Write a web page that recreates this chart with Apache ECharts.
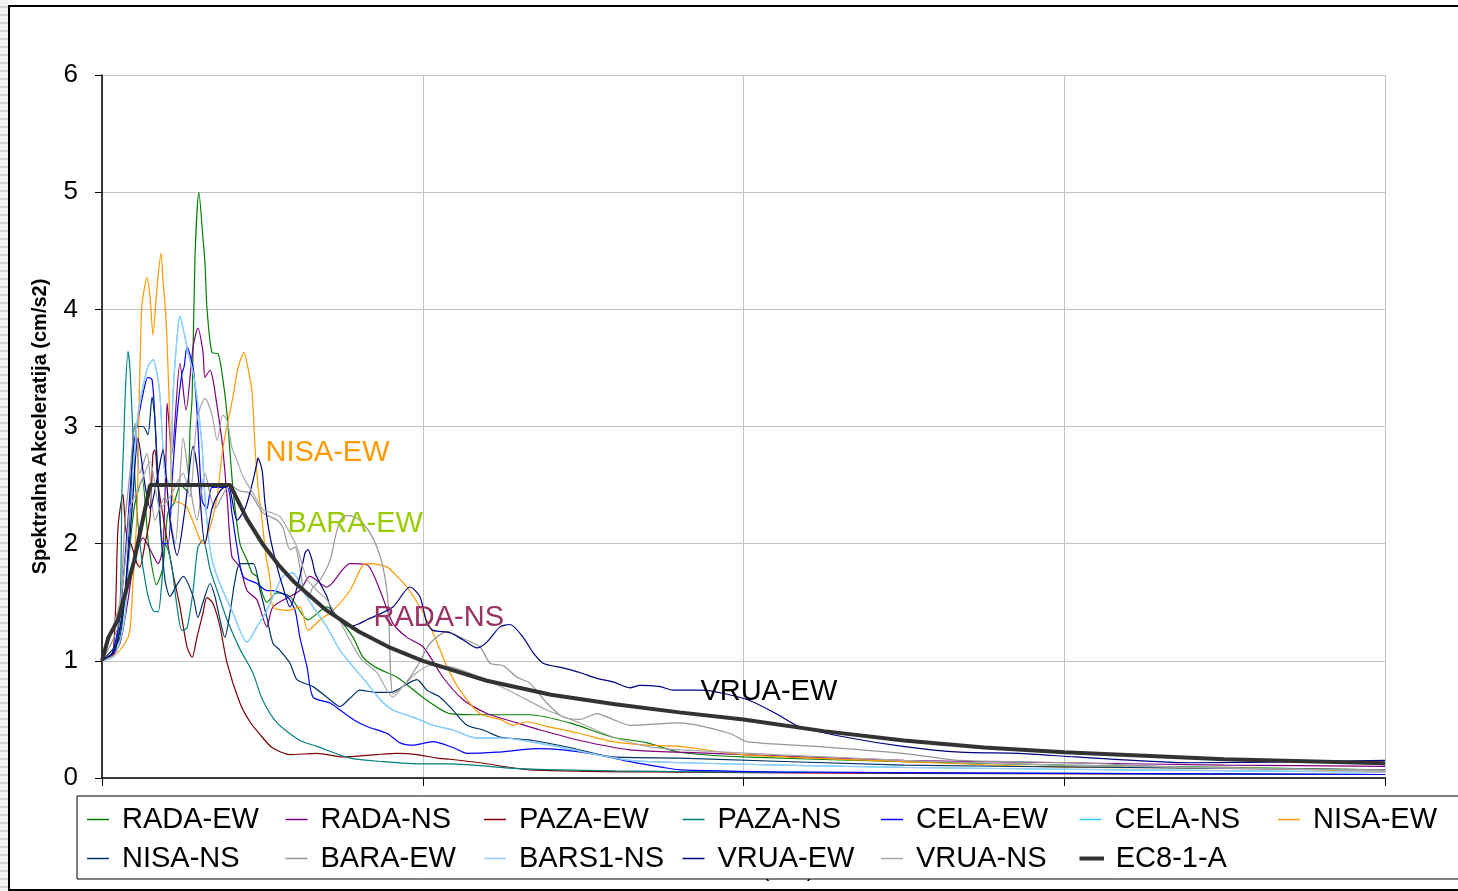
<!DOCTYPE html>
<html>
<head>
<meta charset="utf-8">
<script src="https://cdn.jsdelivr.net/npm/echarts@6/dist/echarts.min.js"></script>
<style>
  html, body { margin: 0; padding: 0; background: #fff; }
  #chart { position: absolute; left: 0; top: 0; width: 1458px; height: 891px; }
  #frame { position: absolute; left: 8px; top: 5px; width: 1470px; height: 882px; border: 2px solid #000; pointer-events: none; }
  #strip { position: absolute; left: 0; top: 0; width: 8px; height: 891px;
           background: repeating-linear-gradient(to bottom, #f4f4f4 0px, #f4f4f4 6px, #d6d6d6 6px, #d6d6d6 8px); }
</style>
</head>
<body>
<div id="strip"></div>
<div id="chart"></div>
<div id="frame"></div>
<script>
// ---- Data: [period T (s), spectral acceleration] ----
const RADA_EW = [[0,1],[0.04,1.08],[0.07,1.5],[0.1,2.3],[0.125,2.55],[0.145,2.0],[0.17,1.65],[0.19,1.8],[0.205,2.26],[0.225,2.35],[0.245,2.5],[0.265,2.45],[0.275,3.0],[0.281,3.25],[0.29,4.45],[0.302,5.0],[0.315,4.6],[0.321,4.4],[0.327,4.02],[0.343,3.63],[0.362,3.62],[0.377,3.4],[0.39,3.1],[0.408,2.48],[0.43,2.0],[0.452,1.86],[0.468,1.75],[0.483,1.72],[0.514,1.5],[0.546,1.58],[0.586,1.55],[0.642,1.35],[0.701,1.46],[0.742,1.35],[0.783,1.2],[0.814,1.03],[0.857,0.94],[0.92,0.86],[1.0,0.69],[1.085,0.55],[1.178,0.54],[1.334,0.54],[1.459,0.47],[1.59,0.35],[1.7,0.3],[1.8,0.22],[2.0,0.18],[2.5,0.14],[3.0,0.11],[3.5,0.09],[4.0,0.07]];
const RADA_NS = [[0,1],[0.03,1.04],[0.056,1.15],[0.08,1.5],[0.1,1.85],[0.128,2.05],[0.15,1.95],[0.175,1.83],[0.19,1.97],[0.2,2.8],[0.203,3.2],[0.218,2.77],[0.243,3.54],[0.262,3.14],[0.284,3.68],[0.299,3.84],[0.315,3.63],[0.321,3.42],[0.337,3.48],[0.346,3.4],[0.359,3.17],[0.374,2.88],[0.39,2.4],[0.405,1.89],[0.43,1.8],[0.452,1.6],[0.483,1.52],[0.514,1.29],[0.533,1.46],[0.617,1.6],[0.648,1.72],[0.701,1.63],[0.773,1.83],[0.826,1.82],[0.867,1.6],[0.907,1.32],[0.951,1.2],[1.001,1.12],[1.063,0.86],[1.125,0.67],[1.2,0.55],[1.294,0.47],[1.366,0.41],[1.49,0.32],[1.646,0.24],[1.802,0.22],[2.0,0.2],[2.5,0.15],[3.0,0.13],[3.5,0.11],[4.0,0.1]];
const PAZA_EW = [[0,1],[0.034,1.05],[0.05,2.14],[0.065,2.42],[0.075,2.1],[0.094,1.97],[0.109,1.83],[0.118,1.8],[0.134,2.0],[0.15,2.23],[0.159,2.77],[0.165,2.8],[0.175,2.5],[0.203,2.03],[0.221,1.75],[0.243,1.46],[0.265,1.12],[0.281,1.03],[0.296,1.2],[0.315,1.41],[0.327,1.54],[0.346,1.49],[0.368,1.29],[0.39,0.98],[0.43,0.64],[0.461,0.48],[0.49,0.38],[0.53,0.26],[0.586,0.2],[0.67,0.21],[0.751,0.18],[0.857,0.2],[0.92,0.21],[0.982,0.2],[1.045,0.17],[1.085,0.16],[1.178,0.13],[1.334,0.07],[1.8,0.05],[2.5,0.04],[3.2,0.035],[4.0,0.03]];
const PAZA_NS = [[0,1],[0.03,1.05],[0.05,1.25],[0.058,1.6],[0.062,2.43],[0.068,2.9],[0.073,3.31],[0.081,3.64],[0.087,3.5],[0.094,3.1],[0.103,2.54],[0.118,2.0],[0.14,1.6],[0.159,1.43],[0.175,1.42],[0.187,1.69],[0.196,2.0],[0.206,1.95],[0.218,1.8],[0.234,1.46],[0.249,1.26],[0.265,1.28],[0.284,1.6],[0.299,1.97],[0.315,2.03],[0.337,1.78],[0.359,1.6],[0.39,1.35],[0.43,1.1],[0.47,0.9],[0.5,0.67],[0.546,0.47],[0.617,0.32],[0.67,0.27],[0.773,0.17],[0.876,0.14],[1.0,0.12],[1.085,0.12],[1.3,0.08],[1.6,0.06],[2.0,0.05],[3.0,0.04],[4.0,0.03]];
const CELA_EW = [[0,1],[0.03,1.05],[0.056,1.4],[0.081,2.2],[0.097,2.8],[0.109,3.0],[0.128,3.28],[0.143,3.42],[0.156,3.4],[0.165,3.06],[0.175,2.5],[0.19,2.0],[0.206,2.0],[0.22,2.6],[0.234,3.1],[0.249,3.45],[0.256,3.51],[0.265,3.68],[0.284,3.5],[0.296,3.14],[0.312,2.37],[0.327,2.3],[0.343,2.48],[0.39,2.48],[0.405,2.26],[0.421,1.97],[0.44,1.72],[0.483,1.66],[0.514,1.6],[0.533,1.6],[0.577,1.55],[0.602,1.43],[0.617,1.2],[0.639,0.95],[0.658,0.69],[0.711,0.64],[0.742,0.58],[0.783,0.5],[0.826,0.44],[0.889,0.38],[0.929,0.3],[0.97,0.28],[1.032,0.31],[1.094,0.26],[1.138,0.21],[1.231,0.22],[1.356,0.25],[1.437,0.24],[1.543,0.2],[1.646,0.14],[1.749,0.09],[1.802,0.07],[2.2,0.05],[3.0,0.04],[4.0,0.03]];
const NISA_EW = [[0,1],[0.04,1.05],[0.072,1.15],[0.087,1.26],[0.097,1.69],[0.109,2.26],[0.115,3.1],[0.121,3.8],[0.125,4.05],[0.14,4.27],[0.15,4.1],[0.159,3.78],[0.171,4.17],[0.184,4.48],[0.19,4.25],[0.2,3.9],[0.209,3.25],[0.221,2.37],[0.243,2.35],[0.265,2.31],[0.306,2.03],[0.315,2.0],[0.337,2.14],[0.359,2.4],[0.377,2.82],[0.408,3.25],[0.424,3.5],[0.443,3.63],[0.455,3.5],[0.468,3.29],[0.477,2.83],[0.486,2.5],[0.499,2.2],[0.511,1.9],[0.524,1.69],[0.533,1.46],[0.577,1.43],[0.617,1.46],[0.642,1.26],[0.68,1.35],[0.72,1.43],[0.773,1.6],[0.814,1.82],[0.836,1.83],[0.889,1.8],[0.92,1.72],[0.951,1.63],[0.991,1.46],[1.032,1.24],[1.076,0.95],[1.116,0.75],[1.178,0.55],[1.241,0.5],[1.281,0.45],[1.325,0.48],[1.387,0.44],[1.49,0.38],[1.593,0.31],[1.7,0.28],[1.802,0.27],[1.995,0.2],[2.497,0.14],[3.034,0.09],[3.573,0.085],[4.0,0.05]];
const NISA_NS = [[0,1],[0.056,1.2],[0.087,2.2],[0.103,3.0],[0.128,3.0],[0.143,2.93],[0.156,3.25],[0.165,3.06],[0.181,2.2],[0.196,1.7],[0.212,1.55],[0.234,1.65],[0.253,1.72],[0.284,1.55],[0.299,1.37],[0.315,1.5],[0.337,1.66],[0.352,1.55],[0.368,1.35],[0.383,1.2],[0.399,1.41],[0.415,1.69],[0.43,1.83],[0.471,1.83],[0.493,1.6],[0.514,1.37],[0.533,1.15],[0.555,1.09],[0.586,0.98],[0.608,0.84],[0.658,0.78],[0.701,0.69],[0.742,0.61],[0.773,0.68],[0.804,0.75],[0.857,0.73],[0.898,0.73],[0.982,0.84],[1.013,0.75],[1.054,0.69],[1.094,0.58],[1.138,0.45],[1.188,0.41],[1.241,0.35],[1.344,0.32],[1.459,0.26],[1.593,0.18],[1.802,0.17],[2.5,0.11],[3.2,0.09],[4.0,0.07]];
const BARA_EW = [[0,1],[0.05,1.3],[0.072,2.2],[0.087,2.6],[0.103,3.03],[0.118,2.6],[0.14,2.77],[0.165,2.2],[0.196,2.4],[0.228,2.0],[0.253,2.9],[0.274,2.5],[0.296,2.2],[0.321,2.6],[0.352,2.3],[0.399,2.5],[0.43,2.45],[0.461,2.43],[0.502,2.26],[0.524,2.23],[0.546,2.2],[0.564,2.14],[0.586,1.95],[0.602,1.97],[0.627,1.63],[0.642,1.54],[0.658,1.63],[0.68,1.69],[0.711,1.86],[0.733,2.12],[0.751,2.23],[0.773,2.24],[0.804,2.2],[0.836,2.09],[0.857,1.97],[0.876,1.8],[0.892,1.5],[0.907,0.72],[0.938,0.78],[0.982,0.95],[1.023,1.15],[1.076,1.25],[1.125,1.19],[1.178,1.12],[1.21,0.98],[1.25,0.96],[1.294,0.86],[1.334,0.81],[1.387,0.64],[1.437,0.52],[1.49,0.5],[1.543,0.55],[1.593,0.5],[1.646,0.45],[1.802,0.47],[1.958,0.38],[2.011,0.31],[2.226,0.27],[2.497,0.21],[2.675,0.15],[3.034,0.13],[3.392,0.09],[4.0,0.07]];
const BARS1_NS = [[0,1],[0.041,1.05],[0.072,1.4],[0.097,2.6],[0.112,3.1],[0.128,3.34],[0.143,3.51],[0.159,3.57],[0.171,3.46],[0.181,3.25],[0.196,2.6],[0.212,2.5],[0.221,3.25],[0.234,3.76],[0.243,3.94],[0.259,3.76],[0.268,3.63],[0.284,3.46],[0.296,3.25],[0.312,2.83],[0.321,2.4],[0.337,1.95],[0.359,1.72],[0.408,1.41],[0.452,1.16],[0.483,1.29],[0.514,1.43],[0.546,1.63],[0.564,1.72],[0.595,1.75],[0.627,1.6],[0.658,1.46],[0.701,1.29],[0.742,1.09],[0.783,0.95],[0.826,0.81],[0.867,0.67],[0.907,0.58],[0.97,0.52],[1.032,0.45],[1.094,0.41],[1.169,0.34],[1.263,0.34],[1.334,0.31],[1.437,0.26],[1.543,0.2],[1.646,0.15],[1.802,0.13],[2.5,0.09],[3.2,0.07],[4.0,0.05]];
const CELA_NS = BARS1_NS; // not distinguishable in the picture: lies under BARS1-NS
const VRUA_EW = [[0,1],[0.041,1.1],[0.072,1.6],[0.094,2.3],[0.112,2.9],[0.134,2.5],[0.15,2.3],[0.175,2.6],[0.19,2.8],[0.212,2.2],[0.234,1.9],[0.259,2.3],[0.284,2.83],[0.299,2.6],[0.321,2.0],[0.343,2.3],[0.368,2.45],[0.393,2.5],[0.421,2.2],[0.446,2.3],[0.471,2.54],[0.483,2.69],[0.486,2.73],[0.499,2.63],[0.508,2.35],[0.524,2.06],[0.546,1.8],[0.564,1.63],[0.586,1.46],[0.617,1.72],[0.633,1.92],[0.642,1.95],[0.655,1.86],[0.664,1.75],[0.68,1.66],[0.701,1.55],[0.72,1.41],[0.773,1.29],[0.804,1.32],[0.826,1.35],[0.907,1.46],[0.96,1.63],[0.991,1.55],[1.013,1.32],[1.032,1.26],[1.085,1.24],[1.125,1.18],[1.169,1.11],[1.2,1.16],[1.241,1.29],[1.272,1.31],[1.313,1.2],[1.344,1.07],[1.375,0.98],[1.437,0.94],[1.49,0.9],[1.543,0.85],[1.593,0.82],[1.646,0.77],[1.677,0.79],[1.74,0.78],[1.78,0.75],[1.867,0.75],[2.011,0.67],[2.101,0.55],[2.173,0.44],[2.316,0.35],[2.497,0.27],[2.675,0.22],[2.856,0.21],[3.034,0.18],[3.392,0.13],[3.751,0.14],[4.0,0.15]];
const VRUA_NS = [[0,1],[0.056,1.5],[0.078,2.0],[0.087,2.3],[0.118,2.5],[0.15,2.7],[0.181,2.3],[0.212,2.4],[0.253,2.6],[0.274,2.4],[0.296,3.06],[0.321,3.24],[0.343,3.1],[0.359,2.88],[0.377,3.1],[0.39,3.05],[0.405,2.82],[0.421,2.71],[0.44,2.57],[0.471,2.43],[0.502,2.29],[0.533,2.26],[0.555,2.23],[0.586,2.09],[0.608,1.97],[0.639,1.7],[0.67,1.6],[0.701,1.52],[0.751,1.29],[0.804,1.03],[0.857,0.9],[0.907,0.69],[0.938,0.78],[0.982,0.9],[1.023,0.96],[1.085,0.95],[1.178,0.86],[1.281,0.73],[1.387,0.58],[1.49,0.47],[1.593,0.35],[1.699,0.27],[1.802,0.24],[2.497,0.15],[3.0,0.11],[4.0,0.06]];
const EC8_1_A = [[0,1],[0.02,1.2],[0.05,1.35],[0.1,1.85],[0.15,2.5],[0.4,2.5],[0.45,2.22],[0.5,2.0],[0.55,1.82],[0.6,1.67],[0.7,1.43],[0.8,1.25],[0.9,1.11],[1.0,1.0],[1.2,0.83],[1.4,0.71],[1.6,0.63],[1.8,0.56],[2.0,0.5],[2.25,0.4],[2.5,0.32],[2.75,0.26],[3.0,0.22],[3.5,0.16],[4.0,0.125]];

const SERIES_NAMES = ['RADA-EW','RADA-NS','PAZA-EW','PAZA-NS','CELA-EW','CELA-NS','NISA-EW','NISA-NS','BARA-EW','BARS1-NS','VRUA-EW','VRUA-NS','EC8-1-A'];
const SERIES_DATA  = [RADA_EW, RADA_NS, PAZA_EW, PAZA_NS, CELA_EW, CELA_NS, NISA_EW, NISA_NS, BARA_EW, BARS1_NS, VRUA_EW, VRUA_NS, EC8_1_A];
const Y_TICKS = [0,1,2,3,4,5,6];
const X_TICKS = [0,1,2,3,4];

// ---- Styles ----
const COLORS = ['#008000','#800080','#800000','#008080','#0000FF','#33CCFF','#FF9900','#003366','#969696','#99CCFF','#000080','#A8A8A8','#333333'];
const WIDTHS = [1.2,1.2,1.2,1.2,1.2,1.2,1.2,1.2,1.2,1.2,1.2,1.2,4];

// in-plot annotations (text, anchor in data units, colour)
const NOTES = [
  {text:'NISA-EW', series:'NISA-EW', at:[0.508,2.775], color:'#FF9900'},
  {text:'BARA-EW', series:'BARA-EW', at:[0.577,2.165], color:'#99CC00'},
  {text:'RADA-NS', series:'RADA-NS', at:[0.845,1.368], color:'#993366'},
  {text:'VRUA-EW', series:'VRUA-EW', at:[1.864,0.736], color:'#000000'}
];

const FONT = '"Liberation Sans", Arial, sans-serif';

const series = SERIES_NAMES.map((name, i) => {
  const notes = NOTES.filter(n => n.series === name);
  const s = {
    name: name,
    type: 'line',
    data: SERIES_DATA[i],
    symbol: 'none',
    smooth: name === 'EC8-1-A' ? false : 0.25,
    lineStyle: { color: COLORS[i], width: WIDTHS[i] },
    itemStyle: { color: COLORS[i] },
    z: name === 'EC8-1-A' ? 5 : 2
  };
  if (notes.length) {
    s.markPoint = {
      symbol: 'circle', symbolSize: 1,
      itemStyle: { color: 'rgba(0,0,0,0)' },
      silent: true,
      data: notes.map(n => ({
        coord: n.at,
        label: { show: true, formatter: n.text, position: 'right', distance: 0,
                 color: n.color, fontSize: 29, fontFamily: FONT }
      }))
    };
  }
  return s;
});

const legendData = SERIES_NAMES.map((name, i) => {
  const item = { name: name, icon: 'rect' };
  if (WIDTHS[i] > 2) {
    item.itemStyle = { color: COLORS[i], borderColor: COLORS[i], borderWidth: 2.5 };
  }
  return item;
});

const chart = echarts.init(document.getElementById('chart'), null, { renderer: 'canvas' });
chart.setOption({
  animation: false,
  backgroundColor: 'transparent',
  grid: { left: 102, right: 73, top: 75, bottom: 113, containLabel: false },
  xAxis: {
    type: 'value', min: X_TICKS[0], max: X_TICKS[X_TICKS.length - 1], interval: 1,
    name: 'Perioda (sec)', nameLocation: 'middle', nameGap: 79,
    nameTextStyle: { fontSize: 24, fontFamily: FONT, color: '#000' },
    axisLine: { show: true, onZero: false, lineStyle: { color: '#000', width: 1.5 } },
    axisTick: { show: true, length: 8, lineStyle: { color: '#000' } },
    axisLabel: { show: false },
    splitLine: { show: true, lineStyle: { color: '#c4c4c4', width: 1 } }
  },
  yAxis: {
    type: 'value', min: Y_TICKS[0], max: Y_TICKS[Y_TICKS.length - 1], interval: 1,
    name: 'Spektralna Akceleratija (cm/s2)', nameLocation: 'middle', nameGap: 52, nameRotate: 90,
    nameTextStyle: { fontSize: 20, fontWeight: 'bold', fontFamily: FONT, color: '#000' },
    axisLine: { show: true, lineStyle: { color: '#000', width: 1.5 } },
    axisTick: { show: true, length: 7, lineStyle: { color: '#000' } },
    axisLabel: { fontSize: 26, fontFamily: FONT, color: '#000', margin: 24 },
    splitLine: { show: true, lineStyle: { color: '#c4c4c4', width: 1 } }
  },
  legend: {
    data: legendData,
    left: 77, top: 796, width: 1400,
    orient: 'horizontal',
    padding: [4, 0, 1, 10],
    itemGap: 0,
    itemWidth: 22, itemHeight: 1.5,
    backgroundColor: '#fff',
    borderColor: '#000', borderWidth: 1,
    z: 10,
    textStyle: { fontSize: 29, fontFamily: FONT, color: '#000', width: 163.5, lineHeight: 39, padding: [0,0,0,8] }
  },
  series: series
});
</script>
</body>
</html>
